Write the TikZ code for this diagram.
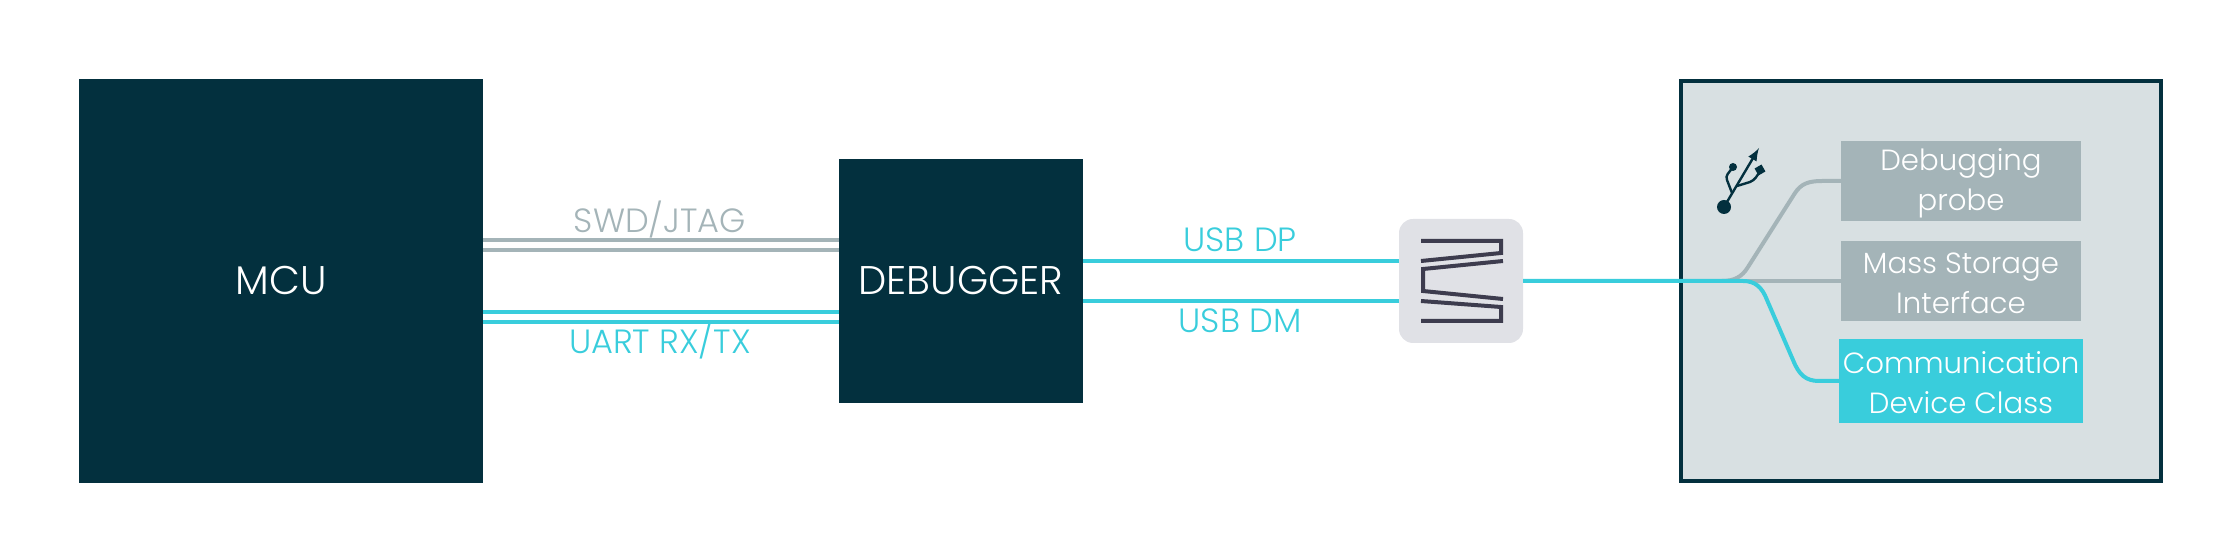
\documentclass[tikz,border=0pt]{standalone}
\usepackage{fontspec}
\setmainfont{Poppins}[UprightFont=* Light]
\usepackage{xcolor}
\usetikzlibrary{arrows}
\definecolor{darkteal}{HTML}{03303E}
\definecolor{wirecyan}{HTML}{39CDDC}
\definecolor{wiregrey}{HTML}{A4B4B8}
\definecolor{panelgrey}{HTML}{D8E0E2}
\definecolor{chokegrey}{HTML}{E0E1E6}
\definecolor{chokeink}{HTML}{3D3C4E}
\tikzset{
  chip/.style={fill=darkteal,text=white,inner sep=0,outer sep=0,font=\fontsize{20}{24}\selectfont},
  func/.style={fill=wiregrey,text=white,inner sep=0,outer sep=0,align=center,minimum width=120pt,minimum height=40pt,text height=33pt,font=\fontsize{14.6}{20}\selectfont},
  greywire/.style={wiregrey,line width=2pt},
  cyanwire/.style={wirecyan,line width=2pt},
  wirelabel/.style={font=\fontsize{16.8}{20}\selectfont,inner sep=0},
}

\begin{document}
\begin{tikzpicture}[x=0.5pt,y=-0.5pt]
\useasboundingbox (0,0) rectangle (2240,560);

\node[chip,minimum size=202pt] (mcu) at (281,281) {MCU};
\node[chip,minimum size=122pt] (debugger) at (961,281) {DEBUGGER};
\node[fill=chokegrey,rounded corners=7pt,minimum size=62pt,inner sep=0,outer sep=0] (choke) at (1461,281) {};
\node[fill=panelgrey,draw=darkteal,line width=2pt,minimum width=240pt,minimum height=200pt,inner sep=0,outer sep=0] (panel) at (1921,281) {};
\node[func] (probe) at (1961,181) {Debugging\\probe};
\node[func] (storage) at (1961,281) {Mass Storage\\Interface};
\node[func,fill=wirecyan,minimum width=122pt,minimum height=42pt] (cdc) at (1961,381) {Communication\\Device Class};

% debug link
\draw[greywire] ([yshift=20.5pt]mcu.east) -- ([yshift=20.5pt]debugger.west);
\draw[greywire] ([yshift=15.5pt]mcu.east) -- ([yshift=15.5pt]debugger.west);
\draw[cyanwire] ([yshift=-15.5pt]mcu.east) -- ([yshift=-15.5pt]debugger.west);
\draw[cyanwire] ([yshift=-20.5pt]mcu.east) -- ([yshift=-20.5pt]debugger.west);
\node[wirelabel,text=wiregrey] (swd) at (660,220) {SWD/JTAG};
\node[wirelabel,text=wirecyan] (uart) at (660,341) {UART RX/TX};

% usb pair
\draw[cyanwire] ([yshift=10pt]debugger.east) -- ([yshift=10pt]choke.west);
\draw[cyanwire] ([yshift=-10pt]debugger.east) -- ([yshift=-10pt]choke.west);
\node[wirelabel,text=wirecyan] (dp) at (1240,240) {USB DP};
\node[wirelabel,text=wirecyan] (dm) at (1240,321) {USB DM};

% choke symbol
\draw[chokeink,line width=2pt] (1421,241) -- (1501,241) -- (1501,253) -- (1421,261);
\draw[chokeink,line width=2pt] (1503,261) -- (1423,269) -- (1423,291) -- (1503,299);
\draw[chokeink,line width=2pt] (1421,301) -- (1501,307) -- (1501,321) -- (1421,321);

% branches
\draw[greywire] (storage.west) -- (choke.east);
\draw[greywire] (probe.west) -- (1822,181) .. controls (1808,181) and (1801,184) .. (1795,193) -- (1748,267) .. controls (1742,277) and (1734,281) .. (1722,281);
\draw[cyanwire] (cdc.west) -- (1819,381) .. controls (1806,381) and (1799,375) .. (1793,360) -- (1767,300) .. controls (1762,287) and (1755,281) .. (1743,281) -- (choke.east);

% usb sign
\fill[darkteal] (1724,207) circle (3.5pt);
\fill[darkteal] (1733,167) circle (2pt);
\draw[darkteal,line width=1.2pt,-latex] (1724,207) -- (1759,148);
\draw[darkteal,line width=1.2pt,line join=round] (1732,193) -- (1727,180) .. controls (1725,175) and (1729,173) .. (1733,167);
\draw[darkteal,line width=1.2pt,line join=round] (1737,186) -- (1750,182) .. controls (1755,180) and (1757,176) .. (1760,171);
\fill[darkteal,rotate around={30:(1760,170)}] (1756,166) rectangle (1764,174);
\end{tikzpicture}
\end{document}
